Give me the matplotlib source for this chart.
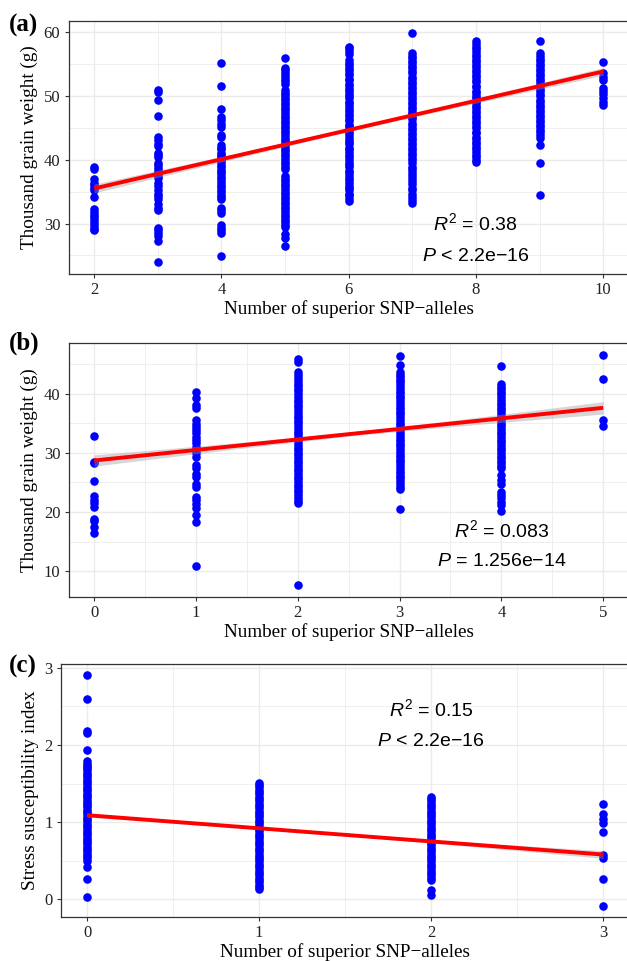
import numpy as np
import matplotlib
matplotlib.use("Agg")
import matplotlib.pyplot as plt

plt.rcParams["font.family"] = ["Liberation Serif", "DejaVu Serif"]
plt.rcParams["mathtext.fontset"] = "custom"
plt.rcParams["mathtext.rm"] = "Liberation Sans"
plt.rcParams["mathtext.it"] = "Liberation Sans:italic"

# ---------------- data: thousand grain weight vs number of superior alleles (a)
a_counts = [2, 3, 4, 5, 6, 7, 8, 9, 10]
a_tgw = {
    2: [38.9, 38.5, 37.0, 36.4, 36.0, 35.6, 35.2, 34.1, 32.2, 31.8, 31.4, 31.0,
        30.6, 30.1, 29.6, 29.2, 29.0],
    3: [50.9, 50.6, 49.4, 46.9, 43.6, 43.1, 42.5, 42.1, 41.1, 40.8, 40.4, 39.5,
        39.1, 38.7, 38.3, 37.9, 37.5, 37.1, 36.4, 35.8, 35.3, 34.7, 34.3, 33.8,
        33.0, 32.4, 32.1, 29.3, 29.0, 28.5, 28.1, 27.2, 24.0],
    4: [55.1, 51.5, 47.9, 46.7, 46.2, 45.6, 45.1, 43.9, 43.5, 42.3, 41.9, 41.6,
        41.1, 40.8, 40.4, 40.0, 39.6, 39.2, 38.9, 38.4, 38.0, 37.7, 37.3, 36.9,
        36.5, 36.1, 35.7, 35.3, 34.9, 34.5, 34.2, 33.8, 32.4, 32.1, 31.7, 29.7,
        29.3, 29.0, 28.5, 24.9],
    5: [55.9, 54.4, 54.0, 53.6, 53.1, 52.7, 52.3, 51.8, 50.9, 50.5, 50.1, 49.7,
        49.3, 48.9, 48.5, 48.1, 47.7, 47.3, 46.9, 46.5, 46.1, 45.7, 45.3, 44.9,
        44.5, 44.1, 43.7, 43.3, 42.9, 42.5, 42.1, 41.7, 41.3, 40.9, 40.5, 40.1,
        39.7, 39.3, 38.9, 38.6, 37.4, 37.0, 36.6, 36.2, 35.8, 35.4, 35.0, 34.6,
        34.2, 33.8, 33.4, 33.0, 32.6, 32.2, 31.8, 31.4, 31.0, 30.6, 30.2, 29.8,
        29.4, 28.3, 27.8, 26.5],
    6: [57.7, 57.4, 57.0, 56.6, 55.6, 55.1, 54.8, 54.3, 54.0, 53.5, 53.2, 52.7,
        52.4, 51.9, 51.6, 51.1, 50.8, 50.3, 50.0, 49.6, 49.1, 48.8, 48.4, 47.9,
        47.6, 47.2, 46.8, 46.3, 46.0, 45.5, 45.2, 44.8, 44.3, 44.0, 43.6, 43.1,
        42.8, 42.4, 41.9, 41.6, 41.2, 40.7, 40.4, 40.0, 39.5, 39.2, 38.8, 38.3,
        38.0, 37.6, 37.1, 36.8, 36.4, 35.9, 35.6, 35.2, 34.7, 34.4, 34.0, 33.6],
    7: [59.9, 56.7, 56.3, 55.9, 55.4, 55.1, 54.6, 54.3, 53.8, 53.5, 53.0, 52.7,
        52.2, 51.9, 51.4, 51.1, 50.6, 50.3, 49.8, 49.5, 49.0, 48.7, 48.2, 47.9,
        47.4, 47.1, 46.6, 46.3, 45.8, 45.5, 45.0, 44.7, 44.2, 43.9, 43.4, 43.1,
        42.6, 42.3, 41.8, 41.5, 41.0, 40.7, 40.2, 39.9, 39.4, 38.9, 38.5, 38.0,
        37.6, 37.1, 36.6, 36.2, 35.6, 35.2, 34.6, 34.2, 33.7, 33.2],
    8: [58.5, 58.1, 57.7, 57.3, 56.9, 56.4, 56.1, 55.6, 55.3, 54.8, 54.5, 54.0,
        53.7, 53.2, 52.9, 52.4, 52.1, 51.6, 51.3, 50.8, 50.5, 50.0, 49.7, 49.2,
        48.9, 48.4, 48.1, 47.6, 47.3, 46.8, 46.5, 46.0, 45.7, 45.2, 44.9, 44.4,
        44.1, 43.6, 43.3, 42.8, 42.5, 42.0, 41.6, 41.2, 40.8, 40.4, 40.0, 39.6],
    9: [58.5, 56.7, 56.3, 55.8, 55.5, 55.0, 54.7, 54.2, 53.9, 53.4, 53.1, 52.6,
        52.3, 51.8, 51.5, 51.0, 50.7, 50.2, 49.9, 49.4, 49.1, 48.6, 48.3, 47.8,
        47.5, 47.0, 46.7, 46.2, 45.9, 45.4, 45.1, 44.6, 44.3, 43.8, 43.4, 42.3,
        39.5, 34.5],
    10: [55.3, 53.5, 53.0, 52.5, 51.2, 50.7, 50.2, 49.6, 49.1, 48.6],
}
a_fit = (30.9, 2.29)              # intercept, slope
a_band = (0.7, 0.28, 0.6)         # CI half-width at min x, mean x, max x
a_stats = ("0.38", "<", "2.2e\u221216")

# ---------------- thousand grain weight (b)
b_counts = [0, 1, 2, 3, 4, 5]
b_tgw = {
    0: [32.9, 28.4, 28.2, 25.3, 22.7, 22.0, 21.6, 20.8, 18.9, 18.5, 17.5, 16.5],
    1: [40.3, 39.3, 38.0, 37.5, 35.5, 34.9, 34.4, 33.8, 33.3, 32.7, 32.1, 31.6,
        31.0, 30.4, 29.9, 29.3, 27.9, 27.4, 26.5, 26.0, 24.7, 24.3, 22.6, 22.0,
        21.3, 20.6, 19.5, 18.4, 10.95],
    2: [45.8, 45.3, 43.7, 43.1, 42.6, 42.2, 41.7, 41.3, 40.8, 40.4, 39.9, 39.5,
        39.0, 38.6, 38.1, 37.7, 37.2, 36.8, 36.3, 35.9, 35.4, 35.0, 34.5, 34.1,
        33.6, 33.2, 32.7, 32.3, 31.8, 31.4, 30.9, 30.5, 30.0, 29.6, 29.1, 28.7,
        28.2, 27.8, 27.3, 26.9, 26.4, 26.0, 25.5, 25.1, 24.6, 24.2, 23.7, 23.3,
        22.8, 22.4, 21.9, 21.5, 7.6],
    3: [46.3, 44.8, 43.7, 43.2, 42.8, 42.3, 41.9, 41.4, 41.0, 40.5, 40.1, 39.6,
        39.2, 38.7, 38.3, 37.8, 37.4, 36.9, 36.5, 36.0, 35.6, 35.1, 34.7, 34.2,
        33.8, 33.3, 32.9, 32.4, 32.0, 31.5, 31.1, 30.6, 30.2, 29.7, 29.3, 28.8,
        28.4, 27.9, 27.5, 27.0, 26.6, 26.1, 25.7, 25.2, 24.8, 24.3, 23.9, 20.5],
    4: [44.7, 41.7, 41.2, 40.8, 40.3, 39.9, 39.4, 39.0, 38.5, 38.1, 37.6, 37.2,
        36.7, 36.3, 35.8, 35.4, 34.9, 34.5, 34.0, 33.6, 33.1, 32.7, 32.2, 31.8,
        31.3, 30.9, 30.4, 30.0, 29.5, 29.1, 28.6, 28.2, 27.7, 27.4, 26.2, 25.4,
        24.8, 23.4, 22.9, 22.3, 21.7, 21.2, 20.1],
    5: [46.6, 42.5, 35.5, 34.6],
}
b_fit = (28.7, 1.78)
b_band = (0.95, 0.35, 1.05)
b_stats = ("0.083", "=", "1.256e\u221214")

# ---------------- stress susceptibility index (c)
c_counts = [0, 1, 2, 3]
c_ssi = {
    0: [2.91, 2.60, 2.18, 2.15, 1.93, 1.79, 1.76, 1.73, 1.70, 1.67, 1.64, 1.61,
        1.58, 1.55, 1.52, 1.49, 1.46, 1.43, 1.40, 1.37, 1.34, 1.31, 1.28, 1.25,
        1.22, 1.19, 1.16, 1.13, 1.10, 1.07, 1.04, 1.01, 0.98, 0.95, 0.92, 0.89,
        0.86, 0.83, 0.80, 0.77, 0.74, 0.71, 0.68, 0.65, 0.62, 0.59, 0.56, 0.53,
        0.50, 0.42, 0.26, 0.03],
    1: [1.51, 1.48, 1.45, 1.42, 1.39, 1.36, 1.33, 1.30, 1.27, 1.24, 1.21, 1.18,
        1.15, 1.12, 1.09, 1.06, 1.03, 1.00, 0.97, 0.94, 0.91, 0.88, 0.85, 0.82,
        0.79, 0.76, 0.73, 0.70, 0.67, 0.64, 0.61, 0.58, 0.55, 0.52, 0.49, 0.46,
        0.43, 0.40, 0.37, 0.34, 0.31, 0.28, 0.25, 0.22, 0.19, 0.16, 0.13],
    2: [1.33, 1.30, 1.27, 1.24, 1.21, 1.18, 1.15, 1.12, 1.09, 1.06, 1.03, 1.00,
        0.97, 0.94, 0.91, 0.88, 0.85, 0.82, 0.79, 0.76, 0.73, 0.70, 0.67, 0.64,
        0.61, 0.58, 0.55, 0.52, 0.49, 0.46, 0.43, 0.40, 0.37, 0.34, 0.31, 0.28,
        0.25, 0.12, 0.05],
    3: [1.24, 1.10, 1.04, 0.99, 0.87, 0.58, 0.53, 0.26, -0.09],
}
c_fit = (1.09, -0.17)
c_band = (0.025, 0.012, 0.05)
c_stats = ("0.15", "<", "2.2e\u221216")

x_title = "Number of superior SNP\u2212alleles"

# ---------------- layout (pixel boxes of each panel)
W, H = 627, 961
fig = plt.figure(figsize=(W / 100, H / 100), dpi=100)


def add_panel(left, right, top, bottom):
    return fig.add_axes([left / W, 1 - bottom / H, (right - left) / W, (bottom - top) / H])


GRID = "#EBEBEB"
DARK = "#333333"


def style(ax, xlim, ylim, xmajor, ymajor, xminor, yminor, ylabel):
    ax.set_xlim(*xlim)
    ax.set_ylim(*ylim)
    ax.set_xticks(xmajor)
    ax.set_yticks(ymajor)
    ax.set_xticks(xminor, minor=True)
    ax.set_yticks(yminor, minor=True)
    ax.grid(which="major", color=GRID, lw=1.0, zorder=0)
    ax.grid(which="minor", color=GRID, lw=0.55, zorder=0)
    ax.set_axisbelow(True)
    for s in ax.spines.values():
        s.set_color(DARK)
        s.set_linewidth(0.9)
    ax.tick_params(which="major", length=3, width=0.8, color=DARK,
                   labelsize=12, labelcolor="#222222", pad=3)
    ax.tick_params(which="minor", length=0)
    ax.set_xlabel(x_title, fontsize=13.8, labelpad=1)
    ax.set_ylabel(ylabel, fontsize=13.8, labelpad=4)


def draw(ax, counts, groups, fit, band, stats, text_xy):
    for k in counts:
        ys = groups[k]
        ax.scatter([k] * len(ys), ys, s=38, color="#0000FF", lw=0, zorder=3)
    x0, x1 = counts[0], counts[-1]
    xm = (x0 + x1) / 2
    xs = np.linspace(x0, x1, 100)
    line = fit[0] + fit[1] * xs
    # half-width of the confidence ribbon grows away from the centre
    q = ((xs - xm) / (x1 - xm)) ** 2
    hw = np.sqrt(band[1] ** 2 + q * (np.where(xs < xm, band[0], band[2]) ** 2 - band[1] ** 2))
    ax.fill_between(xs, line - hw, line + hw, color="#999999", alpha=0.4, lw=0, zorder=4)
    ax.plot(xs, line, color="#FF0000", lw=2.8, zorder=5, solid_capstyle="butt")
    tx, ty1, ty2 = text_xy
    ax.text(tx, ty1, "$\\mathit{R}^2$ = " + stats[0], ha="center", va="center",
            fontsize=14, family=["Liberation Sans"], zorder=6)
    ax.text(tx, ty2, "$\\mathit{P}$ " + stats[1] + " " + stats[2], ha="center",
            va="center", fontsize=14, family=["Liberation Sans"], zorder=6)


ax_a = add_panel(68.6, 628.6, 21, 274)
style(ax_a, (1.6, 10.4), (22.1, 61.7), [2, 4, 6, 8, 10], [30, 40, 50, 60],
      [3, 5, 7, 9], [25, 35, 45, 55], "Thousand grain weight (g)")
draw(ax_a, a_counts, a_tgw, a_fit, a_band, a_stats, (8.0, 30.0, 24.9))

ax_b = add_panel(68.6, 628.6, 343, 597)
style(ax_b, (-0.25, 5.25), (5.65, 48.55), [0, 1, 2, 3, 4, 5], [10, 20, 30, 40],
      [0.5, 1.5, 2.5, 3.5, 4.5], [15, 25, 35, 45], "Thousand grain weight (g)")
draw(ax_b, b_counts, b_tgw, b_fit, b_band, b_stats, (4.0, 17.0, 11.7))

ax_c = add_panel(61.2, 628.8, 664, 917)
style(ax_c, (-0.15, 3.15), (-0.23, 3.05), [0, 1, 2, 3], [0, 1, 2, 3],
      [0.5, 1.5, 2.5], [0.5, 1.5, 2.5], "Stress susceptibility index")
draw(ax_c, c_counts, c_ssi, c_fit, c_band, c_stats, (2.0, 2.46, 2.04))

for label, ypx in (("(a)", 25), ("(b)", 343), ("(c)", 666)):
    fig.text(9 / W, 1 - ypx / H, label, fontsize=18, fontweight="bold",
             ha="left", va="center")

fig.savefig("out.png", dpi=100)
